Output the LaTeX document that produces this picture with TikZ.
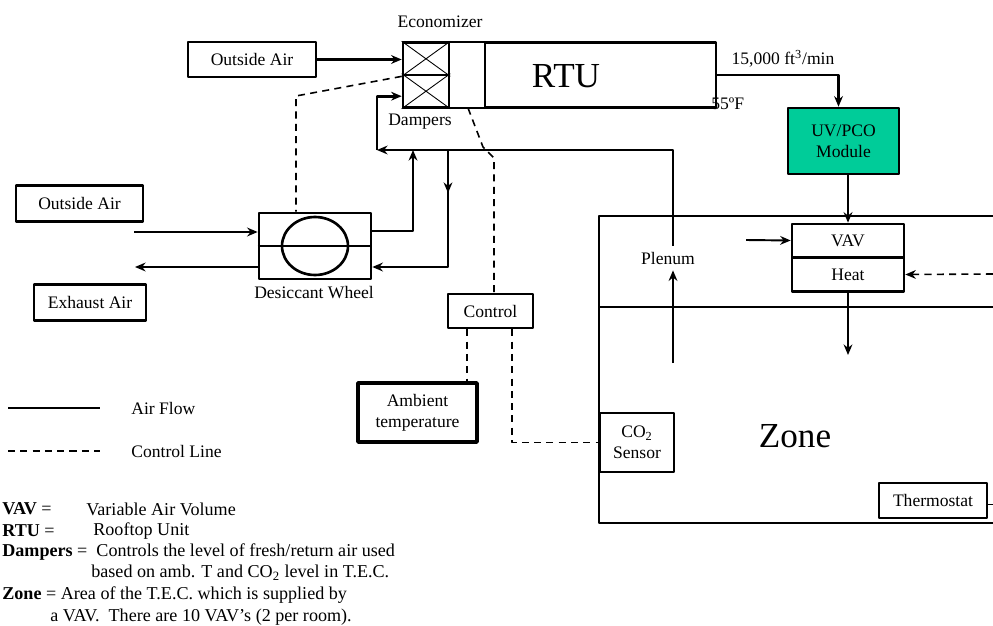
\documentclass[tikz,border=0pt]{standalone}
\usepackage{fontspec}
\setmainfont{Liberation Serif}
\usetikzlibrary{arrows.meta}
\definecolor{pcoteal}{RGB}{0,204,153}
\tikzset{
  box/.style={draw,line width=1.5pt,inner sep=0pt,align=center},
  flow/.style={line width=1.5pt,->},
  ctl/.style={line width=0.9pt,dash pattern=on 4pt off 3pt},
  big/.style={font=\fontsize{20}{24}\selectfont},
  txt/.style={anchor=west,inner sep=0pt}
}
\begin{document}
\begin{tikzpicture}[x=0.02cm,y=-0.02cm,line join=round,font=\fontsize{10}{12}\selectfont,>={Stealth[length=6pt,width=5pt]}]
	\useasboundingbox (0,0) rectangle (993,625);
	% rooftop unit and economizer
	\node[box,minimum width=4.62cm,minimum height=1.3cm] (rtu) at (600.5,75) {};
	\node[big] (rtulbl) at (566,76) {RTU};
	\draw[line width=1.5pt] (403,42) rectangle (485,108);
	\foreach \n/\y in {dmpa/58.8,dmpb/91.2}{
		\node[box,minimum width=0.92cm,minimum height=0.65cm] (\n) at (426,\y) {};
		\draw[line width=0.5pt] (\n.north west)--(\n.south east) (\n.south west)--(\n.north east);}
	\node (eco) at (440,22) {Economizer};
	\node (dmplbl) at (420,122) {Dampers};
	\node[box,minimum width=2.56cm,minimum height=0.7cm] (oaa) at (252,59.5) {Outside Air};
	\draw[flow] (oaa.east) -- (oaa.east -| dmpa.west);
	% supply side
	\node[box,fill=pcoteal,minimum width=2.22cm,minimum height=1.32cm] (uv) at (843.5,141) {UV/PCO\\Module};
	\draw[flow] (rtu.east) -| ([xshift=-0.1cm]uv.north);
	\node (cfm) at (783,59) {15,000 ft\textsuperscript{3}/min};
	\node[txt] (sat) at (711,104) {55ºF};
	\node[box,minimum width=2.24cm,minimum height=0.66cm] (vav) at (848,240.5) {VAV};
	\node[box,minimum width=2.24cm,minimum height=0.68cm] (heat) at (848,274.5) {Heat};
	\draw[flow] (uv.south -| vav.north) -- (vav.north);
	\coordinate (vavin) at (746,240);
	\draw[line width=1.1pt,->] (vavin) -- (vav.west);
	\coordinate (tstat) at (993,274);
	\draw[ctl,->] (tstat) -- (heat.east);
	\coordinate (zonein) at (848,355);
	\draw[flow] (heat.south) -- (zonein);
	% zone
	\draw[line width=1.5pt] (993,216) -| (599,523) -- (993,523);
	\draw[line width=1.5pt] (599,307) -- (993,307);
	\node[big] (zone) at (795,436) {Zone};
	\node[box,minimum width=2.16cm,minimum height=0.7cm] (thermo) at (933,500.5) {Thermostat};
	\draw[line width=1pt] ([yshift=-0.08cm]thermo.east) -- ++(6,0);
	% return air
	\node (pln) at (668,258) {Plenum};
	\coordinate (plnin) at (673,363);
	\draw[flow] (plnin) -- (plnin |- pln.south);
	\coordinate (ra) at (377,150);
	\draw[flow] (pln.north -| plnin) |- (ra);
	\draw[flow] (ra) |- ([yshift=-0.1cm]dmpb.west);
	% desiccant wheel
	\node[box,minimum width=2.24cm,minimum height=1.32cm] (whl) at (315,246) {};
	\draw[line width=1.5pt] (whl.center) ellipse[x radius=0.66cm,y radius=0.58cm];
	\draw[line width=1.5pt] (whl.west) -- (whl.east);
	\node (whllbl) at (314,293) {Desiccant Wheel};
	\node[box,minimum width=2.54cm,minimum height=0.72cm] (oab) at (79.5,203.5) {Outside Air};
	\node[box,minimum width=2.24cm,minimum height=0.72cm] (exh) at (90,302.5) {Exhaust Air};
	\coordinate (oabout) at (134,232);
	\draw[flow] (oabout) -- (oabout -| whl.west);
	\coordinate (exhin) at (135,267);
	\draw[flow] (exhin -| whl.west) -- (exhin);
	\coordinate (sa) at (413,150);
	\draw[flow] ([yshift=0.3cm]whl.east) -| (sa);
	\coordinate (rb) at (448,150);
	\draw[flow] (rb) -- (448,193);
	\draw[flow] (rb) |- ([yshift=-0.42cm]whl.east);
	% control lines
	\coordinate (dw) at (296,96);
	\draw[ctl] (dmpa.south west) -- (dw) -- (dw |- whl.north);
	\node[box,minimum width=1.7cm,minimum height=0.68cm] (ctrl) at (490.5,311) {Control};
	\coordinate (dc) at (494,158);
	\draw[ctl] (468,108) -- (483,147) -- (dc) -- (dc |- ctrl.north);
	\node[box,line width=2pt,minimum width=2.38cm,minimum height=1.18cm] (amb) at (417.5,412.5) {Ambient\\temperature};
	\draw[ctl] ([xshift=-0.47cm]ctrl.south) -- ([xshift=-0.47cm]ctrl.south |- amb.north);
	\node[box,minimum width=1.48cm,minimum height=1.18cm] (co2) at (637,442.5) {CO\textsubscript{2}\\Sensor};
	\draw[ctl] ([xshift=0.43cm]ctrl.south) |- (co2.west);
	% legend
	\coordinate (lga) at (8,408);
	\draw[line width=1.5pt] (lga) -- ++(92,0);
	\node[txt] (lgat) at (131,408) {Air Flow};
	\coordinate (lgb) at (8,451);
	\draw[ctl] (lgb) -- ++(92,0);
	\node[txt] (lgbt) at (131,451) {Control Line};
	% notes
	\begin{scope}[font=\fontsize{10.3}{12}\selectfont]
	\node[txt] (nva) at (2,509) {\textbf{VAV} =};
	\node[txt] (nvb) at (86,509) {Variable Air Volume};
	\node[txt] (nra) at (2,531) {\textbf{RTU} =};
	\node[txt] (nrb) at (93,531) {Rooftop Unit};
	\node[txt] (nda) at (2,552) {\textbf{Dampers} =\ \ Controls the level\ of fresh/return air used};
	\node[txt] (ndb) at (91,573) {based on amb. T and CO\textsubscript{2} level\ in T.E.C.};
	\node[txt] (nza) at (2,595) {\textbf{Zone} = Area of the T.E.C. which is supplied by};
	\node[txt] (nzb) at (50,617) {a VAV.\ \ There are 10 VAV’s (2 per room).};
	\end{scope}
\end{tikzpicture}
\end{document}
